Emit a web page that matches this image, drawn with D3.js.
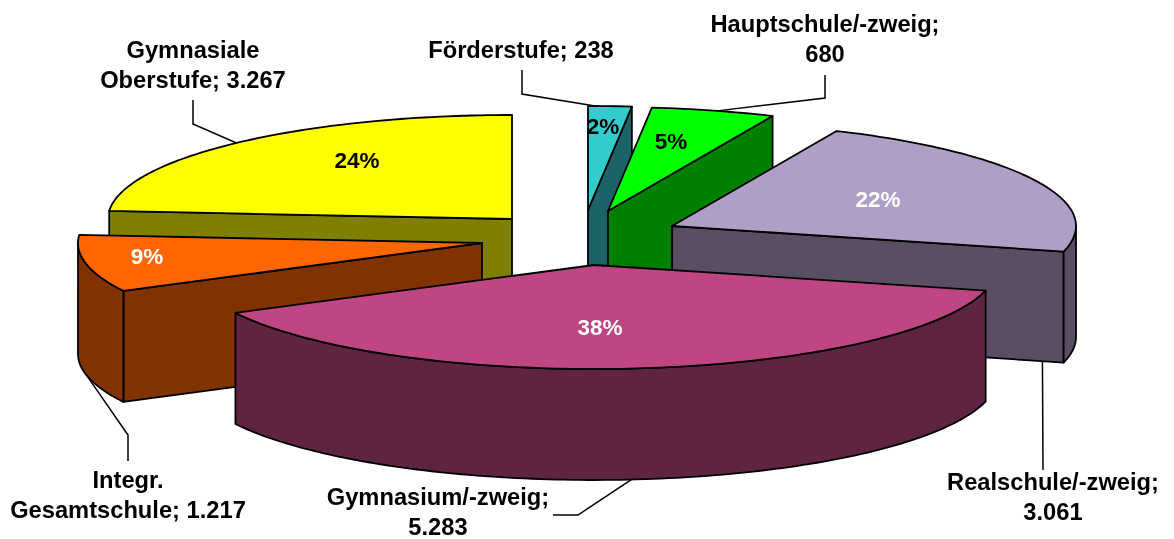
<!DOCTYPE html>
<html>
<head>
<meta charset="utf-8">
<script src="https://cdn.jsdelivr.net/npm/d3@7"></script>
<style>
  html, body { margin: 0; background: #fff; }
  svg { filter: blur(0.4px); }
  text { font-family: "Liberation Sans", Arial, sans-serif; font-weight: bold; font-size: 23.7px; }
  text.percent { font-size: 22.5px; }
</style>
</head>
<body>
<div id="chart"></div>
<script>
// values
var categories = ["Förderstufe", "Hauptschule/-zweig", "Realschule/-zweig", "Gymnasium/-zweig", "Integr. Gesamtschule", "Gymnasiale Oberstufe"];
var values = [238, 680, 3061, 5283, 1217, 3267];
var labelLines = [
  ["Förderstufe; 238"],
  ["Hauptschule/-zweig;", "680"],
  ["Realschule/-zweig;", "3.061"],
  ["Gymnasium/-zweig;", "5.283"],
  ["Integr.", "Gesamtschule; 1.217"],
  ["Gymnasiale", "Oberstufe; 3.267"]
];

// colours, same order as categories
var topColors = ["#33CCCC", "#00FF00", "#AF9EC6", "#C04683", "#FF6600", "#FFFF00"];
var sideColors = ["#1B6369", "#008000", "#594E63", "#602443", "#803300", "#808000"];
var percentColors = ["#000", "#000", "#fff", "#fff", "#fff", "#000"];

// layout of the exploded pie
var svgWidth = 1174;
var svgHeight = 539;
var depth = 111;
var center = { x: 580, y: 235 };
var explode = [[8, -25], [28, -24], [92, -9], [14, 30], [-98, 8], [-68, -16]];
var percentPos = [[603, 134], [671, 149], [878, 207], [600, 335], [147, 264], [357, 168]];
var labelPos = [[521, 58], [825, 32], [1053, 490], [438, 505], [128, 488], [193, 58]];
var lineGap = 30;
// leader: elbow points, then where it touches the slice (degrees, radius share, on bottom edge or not)
var leaders = [
  { elbow: [[522, 70], [522, 94]], deg: 1, r: 1, low: false },
  { elbow: [[825, 75], [825, 98]], deg: 15.7, r: 1, low: false },
  { elbow: [[1043, 470]], deg: 104, r: 0.945, low: true },
  { elbow: [[553, 515], [578, 515]], deg: 174.7, r: 1, low: true },
  { elbow: [[128, 461], [128, 435]], deg: 258, r: 1, low: true },
  { elbow: [[193, 100], [193, 124]], deg: 317, r: 1, low: false }
];

var xScale = d3.scaleLinear().domain([-1, 1]).range([-404, 404]);
var yScale = d3.scaleLinear().domain([-1, 1]).range([-104, 104]);

var total = d3.sum(values);
var slices = d3.pie().sort(null).value(d => d)(values);

// screen position of a point on slice i
function project(i, angle, r, z) {
  return [
    center.x + explode[i][0] + xScale(r * Math.sin(angle)),
    center.y + explode[i][1] + yScale(-r * Math.cos(angle)) + z
  ];
}

function rim(i, a0, a1, z) {
  var n = Math.max(2, Math.ceil((a1 - a0) / 0.02));
  return d3.range(n + 1).map(k => project(i, a0 + (a1 - a0) * k / n, 1, z));
}

var line = d3.line();

var svg = d3.select("#chart")
  .append("svg")
  .attr("width", svgWidth)
  .attr("height", svgHeight)
  .style("display", "block");

// back to front
var drawOrder = [5, 0, 1, 2, 4, 3];

drawOrder.forEach(function (i) {
  var s = slices[i];
  var g = svg.append("g")
    .attr("stroke", "#000")
    .attr("stroke-width", 1.8)
    .attr("stroke-linejoin", "round");

  function cutFace(angle) {
    var pts = [project(i, 0, 0, 0), project(i, angle, 1, 0), project(i, angle, 1, depth), project(i, 0, 0, depth)];
    g.append("path").attr("d", line(pts) + "Z").attr("fill", sideColors[i]);
  }

  // only the cut faces turned to the viewer
  if (Math.sin(s.startAngle) < -0.001) cutFace(s.startAngle);
  if (Math.sin(s.endAngle) > 0.001) cutFace(s.endAngle);

  // outer wall
  var a0 = Math.max(s.startAngle, Math.PI / 2);
  var a1 = Math.min(s.endAngle, Math.PI * 1.5);
  if (a1 > a0) {
    var wall = rim(i, a0, a1, 0).concat(rim(i, a0, a1, depth).reverse());
    g.append("path").attr("d", line(wall) + "Z").attr("fill", sideColors[i]);
  }

  // top face
  var top = [project(i, 0, 0, 0)].concat(rim(i, s.startAngle, s.endAngle, 0));
  g.append("path").attr("d", line(top) + "Z").attr("fill", topColors[i]);
});

// percent labels
svg.selectAll("text.percent")
  .data(values)
  .enter()
  .append("text")
  .attr("class", "percent")
  .attr("x", (d, i) => percentPos[i][0])
  .attr("y", (d, i) => percentPos[i][1])
  .attr("text-anchor", "middle")
  .attr("fill", (d, i) => percentColors[i])
  .text(d => Math.round(d / total * 100) + "%");

// leader lines
leaders.forEach(function (l, i) {
  var a = l.deg * Math.PI / 180;
  var end = project(i, a, l.r, l.low ? depth : 0);
  svg.append("path")
    .attr("d", line(l.elbow.concat([end])))
    .attr("fill", "none")
    .attr("stroke", "#000")
    .attr("stroke-width", 1.5);
});

// category labels
labelLines.forEach(function (lines, i) {
  var t = svg.append("text")
    .attr("text-anchor", "middle")
    .attr("fill", "#000");
  lines.forEach(function (txt, k) {
    t.append("tspan")
      .attr("x", labelPos[i][0])
      .attr("y", labelPos[i][1] + k * lineGap)
      .text(txt);
  });
});
</script>
</body>
</html>
